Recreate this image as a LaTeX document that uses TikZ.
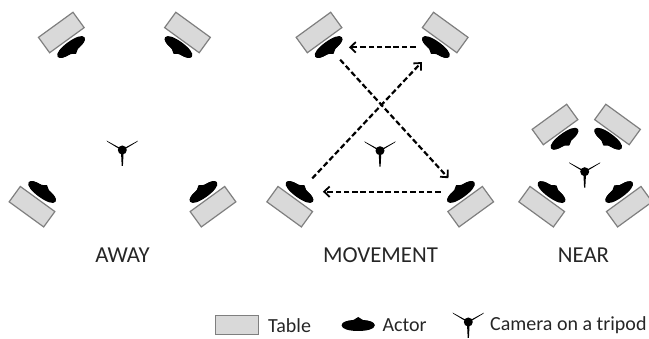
\documentclass[tikz,border=0pt]{standalone}
\usepackage{fontspec}
\setmainfont{Carlito}
\usetikzlibrary{arrows.meta,shapes.geometric}
\definecolor{tablefill}{HTML}{D9D9D9}
\definecolor{tableline}{HTML}{7F7F7F}
\definecolor{labeltext}{HTML}{262626}
\tikzset{
  tablebox/.style={rectangle,draw=tableline,fill=tablefill,line width=1.2pt,minimum width=42.7pt,minimum height=19pt,inner sep=0pt,outer sep=0pt},
  actorbody/.style={ellipse,fill=black,minimum width=33pt,minimum height=10.5pt,inner sep=0pt,outer sep=0pt},
  camerahead/.style={circle,fill=black,minimum size=9pt,inner sep=0pt,outer sep=0pt},
  move/.style={black,line width=2.2pt,dash pattern=on 5.5pt off 2.8pt,-{Straight Barb[length=5.5pt,width=10.5pt,line width=1.8pt]}},
  panellabel/.style={text=labeltext,font=\fontsize{22.8}{26}\selectfont,inner sep=0pt},
  legendlabel/.style={text=labeltext,font=\fontsize{20}{24}\selectfont,inner sep=0pt,anchor=west},
}
% actor: name, x, y, angle
\newcommand{\actornode}[4]{
  \node (#1) at (#2,#3) [actorbody,rotate=#4] {};
  \fill [shift={(#1.center)},rotate=#4] (-16.5,0.5) .. controls (-16.5,-3) and (-11,-4.5) .. (-7,-4.5) .. controls (-3,-4.5) and (-2,-8) .. (0,-8) .. controls (2,-8) and (3,-4.5) .. (7,-4.5) .. controls (11,-4.5) and (16.5,-3) .. (16.5,0.5) .. controls (16.5,4) and (9,6) .. (0,6) .. controls (-9,6) and (-16.5,4) .. (-16.5,0.5) -- cycle;
}
% camera: name, x, y
\newcommand{\cameranode}[3]{
  \node (#1) at (#2,#3) [camerahead] {};
  \fill [shift={(#1.center)}] (0.7,1.2) -- (-15,-8.3) -- (-15.6,-9.3) -- (-0.7,-1.2) -- cycle;
  \fill [shift={(#1.center)}] (-0.7,1.2) -- (15,-8.3) -- (15.6,-9.3) -- (0.7,-1.2) -- cycle;
  \fill [shift={(#1.center)}] (-1.4,0) -- (-0.6,16) -- (0.6,16) -- (1.4,0) -- cycle;
}
\begin{document}
\begin{tikzpicture}[x=1pt,y=-1pt]
%%
  \clip (0,0) rectangle (649,339);
%% away
  \node (table_a1) at (61.3,32.5) [tablebox,rotate=36] {};
  \node (table_a2) at (187.5,32.5) [tablebox,rotate=-36] {};
  \node (table_a3) at (32,206.7) [tablebox,rotate=-36] {};
  \node (table_a4) at (213,206.7) [tablebox,rotate=36] {};
  \actornode{actor_a1}{71.3}{47.3}{216}
  \actornode{actor_a2}{178.3}{47.3}{144}
  \actornode{actor_a3}{42.3}{191.7}{-36}
  \actornode{actor_a4}{203.3}{191.7}{36}
  \cameranode{camera_a}{122.3}{150}
  \node (label_a) at (122.5,255) [panellabel] {AWAY};
%% movement
  \node (table_m1) at (319,32.5) [tablebox,rotate=36] {};
  \node (table_m2) at (445.2,32.5) [tablebox,rotate=-36] {};
  \node (table_m3) at (289.7,206.7) [tablebox,rotate=-36] {};
  \node (table_m4) at (470.7,206.7) [tablebox,rotate=36] {};
  \actornode{actor_m1}{328.8}{47.3}{216}
  \actornode{actor_m2}{435.7}{47.3}{144}
  \actornode{actor_m3}{299.7}{191.7}{-36}
  \actornode{actor_m4}{460.8}{191.7}{36}
  \cameranode{camera_m}{380}{150.7}
  \node (label_m) at (380.5,255) [panellabel] {MOVEMENT};

  \draw [move,shorten <=12pt,shorten >=12pt] (actor_m2) -- (actor_m1);
  \draw [move,shorten <=13pt,shorten >=15pt] (actor_m3) -- (actor_m2);
  \draw [move,shorten <=11.5pt,shorten >=13pt] (actor_m1) -- (actor_m4);
  \draw [move,shorten <=12pt,shorten >=15pt] (actor_m4) -- (actor_m3);
%% near
  \node (table_n1) at (555,124.5) [tablebox,rotate=36] {};
  \node (table_n2) at (617.5,124.5) [tablebox,rotate=-36] {};
  \node (table_n3) at (541.7,206.7) [tablebox,rotate=-36] {};
  \node (table_n4) at (629.3,206.7) [tablebox,rotate=36] {};
  \actornode{actor_n1}{564.7}{139}{216}
  \actornode{actor_n2}{608}{139}{144}
  \actornode{actor_n3}{551.7}{191.8}{-36}
  \actornode{actor_n4}{619}{191.8}{36}
  \cameranode{camera_n}{584.7}{171.7}
  \node (label_n) at (583.5,255) [panellabel] {NEAR};
%% legend
  \node (table_l) at (237.2,325.2) [tablebox] {};
  \node (text_t) at (268,325.5) [legendlabel] {Table};
  \actornode{actor_l}{358.2}{325}{0}
  \node (text_a) at (382.3,325.5) [legendlabel] {Actor};
  \cameranode{camera_l}{468.3}{322}
  \node (text_c) at (490,325.5) [legendlabel] {Camera on a tripod};
\end{tikzpicture}
\end{document}
